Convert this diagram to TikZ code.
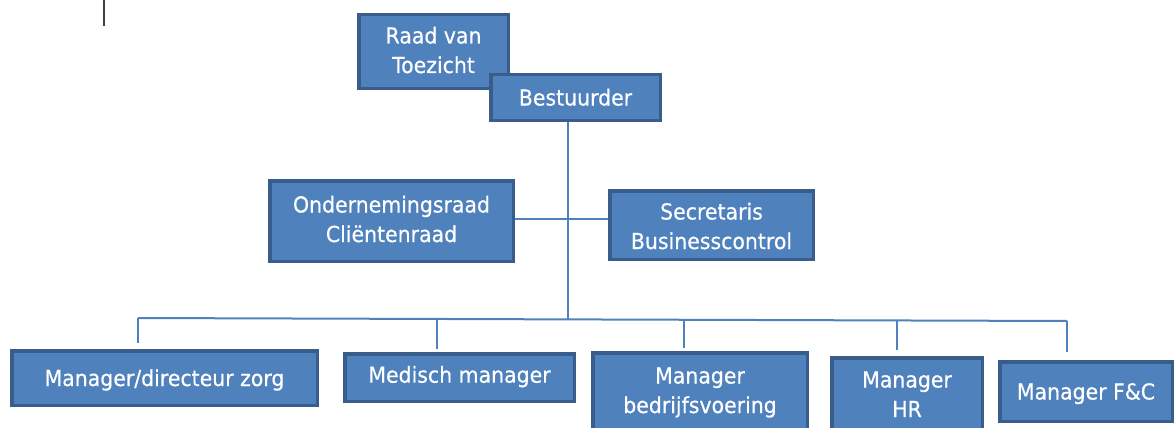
\documentclass[tikz,border=0pt]{standalone}
\usepackage{fontspec}
\setmainfont{DejaVu Sans}[FakeStretch=0.93,FakeBold=0.4]
\definecolor{boxfill}{HTML}{4F81BD}
\definecolor{boxline}{HTML}{385D8A}
\definecolor{conn}{HTML}{4F81BD}
\tikzset{
  orgbase/.style={rectangle, draw=boxline, fill=boxfill, line width=3.5pt, text=white,
    inner sep=0pt, align=center, font=\fontsize{22}{29.5}\selectfont},
  orgbox/.style={orgbase, text height=16pt, text depth=#1},
  orgbox/.default=0pt,
  orgtwo/.style={orgbase, text height=#1, text depth=0pt},
  orgline/.style={draw=conn, line width=2pt},
}
\begin{document}
\begin{tikzpicture}[x=1pt,y=-1pt]
\useasboundingbox (0,0) rectangle (1175,428);
\clip (0,0) rectangle (1175,428);
% small mark top-left
\draw[black!75, line width=1.2pt] (104,0) -- (104,26);
\node[orgtwo=43pt, minimum width=149.5pt, minimum height=73.5pt] (raad) at (433.5,51.5) {Raad van\\Toezicht};
\node[orgbox=0pt, minimum width=169.5pt, minimum height=45.5pt] (best) at (575.5,97.5) {Bestuurder};
% hub coordinates
\coordinate (hub) at (568,219);
\coordinate (busj) at (568,319.5);
\coordinate (d1) at (138,318);
\coordinate (d2) at (437,319);
\coordinate (d3) at (684,320);
\coordinate (d4) at (897,320.5);
\coordinate (d5) at (1067,321);
% connectors
\draw[orgline] (best.south -| busj) -- (busj);
\draw[orgline] (d1) -- (d5);
\node[orgtwo=42pt, minimum width=243.5pt, minimum height=80.5pt] (onder) at (391.5,221) {Ondernemingsraad\\Cliëntenraad};
\node[orgtwo=48pt, minimum width=203.5pt, minimum height=68.5pt] (secr) at (711.5,225) {Secretaris\\Businesscontrol};
\node[orgbox=0pt, minimum width=305.5pt, minimum height=54.5pt] (zorg) at (164.5,378) {Manager/directeur zorg};
\node[orgbox=5.6pt, minimum width=229.5pt, minimum height=47.5pt] (med) at (459.5,377.5) {Medisch manager};
\node[orgtwo=25pt, minimum width=214.5pt, minimum height=95.5pt] (bedr) at (700,400.5) {Manager\\bedrijfsvoering};
\node[orgtwo=28pt, minimum width=150.5pt, minimum height=90.5pt] (hr) at (907,403) {Manager\\HR};
\node[orgbox=0pt, minimum width=172.5pt, minimum height=59.5pt] (fc) at (1086,391.5) {Manager F\&C};
\draw[orgline] (onder.east |- hub) -- (secr.west |- hub);
\draw[orgline, shorten >=6.5pt] (d1) -- (d1 |- zorg.north);
\draw[orgline, shorten >=3.5pt] (d2) -- (d2 |- med.north);
\draw[orgline, shorten >=3.5pt] (d3) -- (d3 |- bedr.north);
\draw[orgline, shorten >=6.5pt] (d4) -- (d4 |- hr.north);
\draw[orgline, shorten >=8.5pt] (d5) -- (d5 |- fc.north);
\end{tikzpicture}
\end{document}
